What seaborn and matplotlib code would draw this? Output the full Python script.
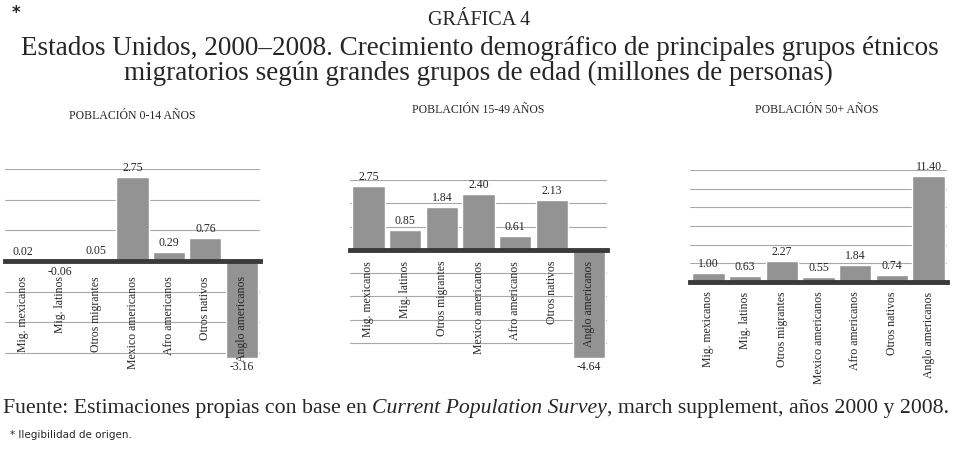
import matplotlib
matplotlib.use("Agg")
import matplotlib.pyplot as plt
import seaborn as sns

# Data (millions of people)
groups = ["Mig. mexicanos", "Mig. latinos", "Otros migrantes", "Mexico americanos",
          "Afro americanos", "Otros nativos", "Anglo americanos"]
pob_0_14 = [0.02, -0.06, 0.05, 2.75, 0.29, 0.76, -3.16]
pob_15_49 = [2.75, 0.85, 1.84, 2.40, 0.61, 2.13, -4.64]
pob_50 = [1.00, 0.63, 2.27, 0.55, 1.84, 0.74, 11.40]
panel_titles = ["POBLACIÓN 0-14 AÑOS", "POBLACIÓN 15-49 AÑOS", "POBLACIÓN 50+ AÑOS"]

sns.set_style("white")
plt.rcParams['font.family'] = ['Liberation Serif', 'DejaVu Serif']

BAR = "#939393"
DARK = "#3a3a3a"
GRID = "#a8a8a8"

fig = plt.figure(figsize=(9.59, 4.53), dpi=100)

panels = [
    (pob_0_14, [0.0052, 0.2097, 0.266, 0.417], (-3.16, 3.0), range(-3, 4), 11),
    (pob_15_49, [0.365, 0.2097, 0.268, 0.393], (-4.64, 3.0), range(-4, 4), 8),
    (pob_50, [0.7195, 0.3775, 0.268, 0.247], (0, 12), range(0, 13, 2), 7),
]
title_y = [0.745, 0.757, 0.757]
title_x = [0.138, 0.499, 0.852]

for (vals, rect, ylim, yt, pad), ttl, tx, ty in zip(panels, panel_titles, title_x, title_y):
    ax = fig.add_axes(rect)
    sns.barplot(x=groups, y=vals, color=BAR, saturation=1, width=0.88, ax=ax, zorder=1)
    ax.set_ylim(*ylim)
    ax.set_xlim(-0.5, len(groups) - 0.5)
    # light gridlines behind the bars, axis labels stay on top
    for v in yt:
        ax.axhline(v, color=GRID, lw=0.8, zorder=0)
    ax.set_axisbelow(False)
    ax.set_yticks([])
    for s in ['top', 'left', 'right']:
        ax.spines[s].set_visible(False)
    ax.spines['bottom'].set_position(('data', 0))
    ax.spines['bottom'].set_color(DARK)
    ax.spines['bottom'].set_linewidth(3.5)
    ax.set_xticks(range(len(groups)))
    ax.set_xticklabels(groups, rotation=90, fontsize=8.5, va='top')
    ax.set_xticks([i - 0.5 for i in range(len(groups) + 1)], minor=True)
    ax.tick_params(axis='x', which='major', length=0, pad=pad)
    ax.tick_params(axis='x', which='minor', length=4, width=3.5, color=DARK, direction='out')
    ax.set_xlabel("")
    ax.set_ylabel("")
    ax.bar_label(ax.containers[0], fmt='%.2f', padding=2, fontsize=8.5)
    fig.text(tx, ty, ttl, ha='center', va='center', fontsize=8.5)

# Titles
fig.text(0.0125, 0.972, "*", fontsize=12, weight='bold', family='DejaVu Sans', va='center')
fig.text(0.5, 0.955, "GRÁFICA 4", ha='center', va='center', fontsize=14.5)
fig.text(0.5, 0.893, "Estados Unidos, 2000–2008. Crecimiento demográfico de principales grupos étnicos",
         ha='center', va='center', fontsize=19.5)
fig.text(0.499, 0.838, "migratorios según grandes grupos de edad (millones de personas)",
         ha='center', va='center', fontsize=19.5)

# Source line with italic part
fig.canvas.draw()
r = fig.canvas.get_renderer()
parts = [("Fuente: Estimaciones propias con base en ", 'normal'),
         ("Current Population Survey", 'italic'),
         (", march supplement, años 2000 y 2008.", 'normal')]
x = 3
for txt, st in parts:
    t = fig.text(x / 959, 1 - 408 / 453, txt, fontsize=15.7, style=st, va='center')
    bb = t.get_window_extent(renderer=r)
    x += bb.width

fig.text(10 / 959, 1 - 435 / 453, "* Ilegibilidad de origen.", fontsize=7.5,
         family='DejaVu Sans', va='center')

fig.savefig("out.png", dpi=100)
